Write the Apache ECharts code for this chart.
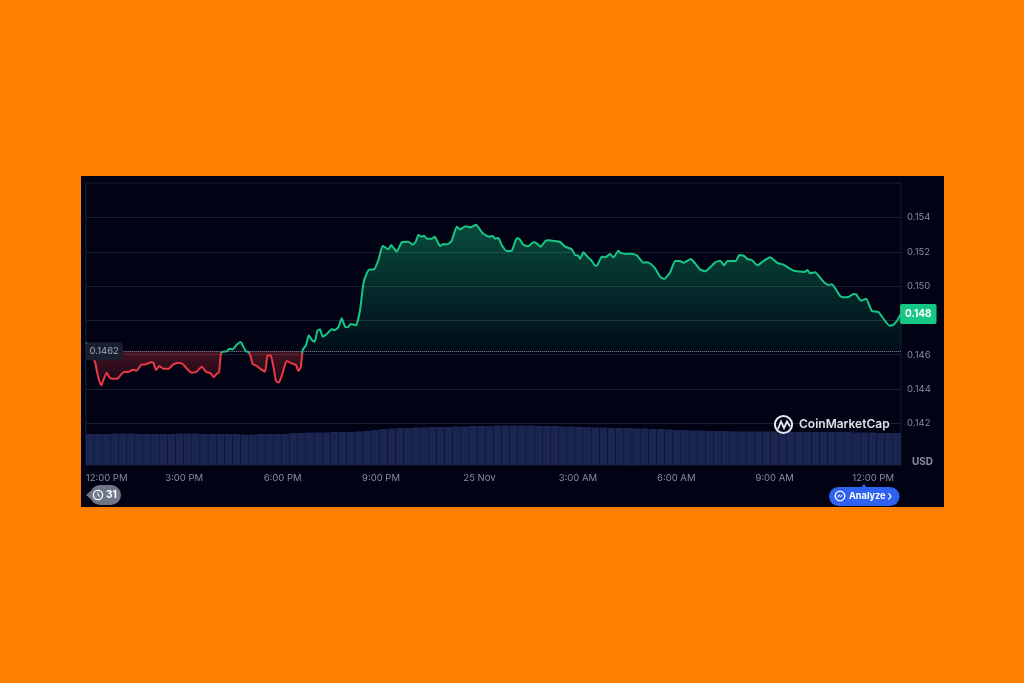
<!DOCTYPE html>
<html>
<head>
<meta charset="utf-8">
<style>
html,body{margin:0;padding:0;width:1024px;height:683px;background:#ff8000;overflow:hidden}
#panel{position:absolute;left:81px;top:176px;width:863px;height:331px;background:#010314}
#c{position:absolute;left:0;top:0;width:1024px;height:683px}
</style>
<script src="https://cdn.jsdelivr.net/npm/echarts@6/dist/echarts.min.js"></script>
</head>
<body>
<div id="panel"></div>
<div id="c"></div>
<script>
// hours since 12:00 PM on 24 Nov
const priceHours = [0,.067,.108,.189,.28,.331,.403,.474,.555,.636,.718,.819,.961,1.063,1.165,1.297,1.429,1.551,1.693,1.835,1.978,2.059,2.14,2.242,2.364,2.526,2.669,2.821,2.953,3.075,3.218,3.38,3.533,3.665,3.807,3.888,4.01,4.061,4.122,4.193,4.295,4.376,4.478,4.6,4.722,4.803,4.884,4.966,5.027,5.088,5.21,5.311,5.464,5.535,5.636,5.718,5.799,5.88,5.982,6.124,6.277,6.409,6.48,6.551,
6.612,6.713,6.795,6.896,6.978,7.059,7.14,7.222,7.344,7.496,7.587,7.699,7.801,7.903,7.984,8.075,8.238,8.36,8.462,8.563,8.644,8.787,8.919,9.051,9.224,9.305,9.478,9.64,9.833,9.966,10.057,10.138,10.24,10.311,10.392,10.545,10.636,10.799,10.901,11.022,11.155,11.307,11.409,11.582,11.734,11.897,12.1,12.303,12.405,12.476,12.578,12.679,12.832,12.984,13.137,13.218,13.34,13.492,13.645,13.746,13.868,14.01,14.102,14.458,14.61,14.813,14.915,15.017,15.067,15.169,15.291,15.403,15.515,15.576,15.728,15.83,15.982,16.084,16.236,
16.287,16.49,16.643,16.795,16.998,17.1,17.222,17.354,17.507,17.629,17.811,17.964,18.116,18.218,18.442,18.574,18.726,18.879,19.031,19.183,19.336,19.458,19.559,19.814,19.925,20.068,20.169,20.301,20.474,20.657,20.86,21.084,21.267,21.572,21.907,21.999,22.08,22.232,22.385,22.507,22.639,22.741,22.995,23.096,23.249,23.401,23.482,23.625,23.787,23.96,24.163,24.499,24.621,24.743,24.844];
const prices = [.146662,.146624,.146235,.14588,.145593,.145107,.144524,.144213,.144621,.144952,.14468,.144602,.144602,.144816,.144991,.144991,.145127,.145069,.145418,.145438,.145555,.145535,.145107,.145341,.145185,.145185,.145438,.145535,.145457,.145205,.144952,.14501,.145302,.14501,.144913,.144699,.144913,.144971,.146079,.146177,.146196,.146351,.146312,.146585,.14674,.146468,.146196,.146157,.145885,.145457,.145341,.145185,.14501,.145924,.145963,.145302,.144466,.144369,.144816,.145632,.145496,.145399,.145049,.145263,
.146273,.146565,.147129,.146857,.146759,.147401,.147479,.147051,.147206,.147479,.14744,.147595,.14812,.147634,.147595,.14779,.147712,.148606,.150161,.150744,.150958,.150977,.151521,.152357,.152143,.152396,.152007,.152571,.15259,.152416,.15259,.152979,.152882,.15294,.152765,.152765,.152882,.152338,.152454,.152435,.152649,.153465,.15331,.153485,.153426,.153582,.153076,.152882,.152921,.152765,.152804,.152396,.152046,.152066,.152785,.152746,.152416,.152318,.152552,.152493,.152299,.152629,.152668,.152571,.152299,.152143,.151813,.151774,.15158,.151969,.151716,.151521,.15121,.151191,.151716,.151677,.151871,.151677,.152066,
.151949,.151872,.151891,.151794,.151366,.151386,.151288,.151036,.15055,.150414,.150803,.151464,.151464,.151366,.15158,.151327,.150977,.150861,.151094,.151386,.151483,.151211,.151464,.151464,.151813,.151755,.15158,.151522,.151211,.151464,.151677,.151347,.15125,.1509,.150822,.150939,.150744,.150803,.150492,.150219,.150064,.150103,.149423,.149345,.149364,.149539,.14952,.14915,.149267,.148548,.14849,.147693,.147751,.148023,.148373];
const volumes = [31,31,31,31.5,31.5,31.5,31,31,31,31,31,31.5,31.5,31.5,31,31,31,31,31,30.5,30.5,31,31,31,31,
32,32,32.5,32.5,32.5,33,33,33,33.5,34,
35,36,36.5,37,37,37.5,37.5,38,38,38,38.5,38.5,39,39,
39,39.5,39.5,39.5,39.5,39.5,39,39,39,38.5,38.5,38,
38,37.5,37.5,37,37,37,36.5,36.5,36,36,35.5,35,
35,34.5,34.5,34,34,34,33.5,33.5,33.5,33.5,33.5,33.5,33.5,33,33,33,33,33,
33,33,33,32.5,32.5,32.5,32,32,32];
const xTickLabels = ['12:00 PM','3:00 PM','6:00 PM','9:00 PM','25 Nov','3:00 AM','6:00 AM','9:00 AM','12:00 PM'];
const basePrice = 0.1462;

const FONT = 'Inter, "Open Sans", sans-serif';
const TXT = '#868ea3';
const hi = Math.max(...prices), lo = Math.min(...prices);
const r = (hi - basePrice) / (hi - lo);
const lineColor = {type:'linear',x:0,y:0,x2:0,y2:1,colorStops:[
  {offset:0,color:'#16c784'},{offset:r,color:'#16c784'},{offset:r,color:'#ea3943'},{offset:1,color:'#ea3943'}]};
const areaColor = {type:'linear',x:0,y:0,x2:0,y2:1,colorStops:[
  {offset:0,color:'rgba(22,199,132,0.36)'},{offset:r,color:'rgba(22,199,132,0.05)'},
  {offset:r,color:'rgba(234,57,67,0.30)'},{offset:1,color:'rgba(234,57,67,0.08)'}]};
const linePts = priceHours.map((h,i)=>[h,prices[i]]);
const volPts = volumes.map((v,i)=>[i*0.2485+0.124,v]);
const last = linePts[linePts.length-1];

const chart = echarts.init(document.getElementById('c'),null,{renderer:'canvas'});
chart.setOption({
  animation:false,
  backgroundColor:'transparent',
  textStyle:{fontFamily:FONT},
  grid:[
    {left:85.8,right:123,top:183.2,height:274.4},
    {left:85.8,right:123,top:183,bottom:218,show:true,borderColor:'#191f2f',borderWidth:1,backgroundColor:'transparent'}
  ],
  xAxis:[
    {type:'value',gridIndex:0,min:0,max:24.85,interval:3,show:false},
    {type:'value',gridIndex:1,min:0,max:24.85,interval:3,
      axisLine:{show:false},axisTick:{show:false},splitLine:{show:false},
      axisLabel:{show:true,color:TXT,fontSize:9.5,fontFamily:FONT,margin:8,alignMinLabel:'left',
        showMinLabel:true,hideOverlap:false,
        formatter:v=>{const k=Math.round(v/3);return Math.abs(v-k*3)<1e-6?(xTickLabels[k]||''):''}}}
  ],
  yAxis:[
    {type:'value',gridIndex:0,position:'right',min:0.14,max:0.156,interval:0.002,
      axisLine:{show:false},axisTick:{show:false},
      splitLine:{show:true,showMinLine:false,showMaxLine:false,lineStyle:{color:'#1b2132',width:1}},
      axisLabel:{color:TXT,fontSize:9.5,fontFamily:FONT,margin:6,padding:[2,0,0,0],
        formatter:v=>(v<0.141||v>0.155)?'':v.toFixed(3)}},
    {type:'value',gridIndex:1,min:0,max:282,show:false}
  ],
  series:[
    {type:'bar',name:'Volume',xAxisIndex:1,yAxisIndex:1,data:volPts,barWidth:7.85,
      itemStyle:{color:'#1a2650'},silent:true,z:1},
    {type:'line',name:'Price',xAxisIndex:0,yAxisIndex:0,data:linePts,showSymbol:false,smooth:0.15,
      lineStyle:{width:2,color:lineColor},
      areaStyle:{origin:basePrice,color:areaColor,opacity:1},z:3,
      markLine:{silent:true,symbol:'none',precision:4,label:{show:false},
        lineStyle:{type:'dotted',color:'#7f8799',width:1},data:[{yAxis:basePrice}]},
      markPoint:{silent:true,symbol:'circle',symbolSize:0,z:10,data:[
        {coord:[0.56,basePrice],label:{show:true,position:'inside',formatter:String(basePrice),
          color:'#a3aaba',fontSize:9.5,fontFamily:FONT,backgroundColor:'#191f2e',borderRadius:4,padding:[4,4]}},
        {coord:last,label:{show:true,position:'inside',offset:[17.5,0],formatter:last[1].toFixed(3),
          color:'#fff',fontWeight:700,fontSize:10,fontFamily:FONT,backgroundColor:'#16c784',borderRadius:2,padding:[5,5]}}
      ]}}
  ],
  graphic:[
    {type:'text',left:912,top:457,style:{text:'USD',fill:TXT,font:'700 10px '+FONT}},
    // CoinMarketCap watermark
    {type:'circle',shape:{cx:783.5,cy:424.5,r:8.6},style:{fill:'none',stroke:'#e8e9ee',lineWidth:2},z:20},
    {type:'polyline',shape:{points:[[778,429],[781,421.5],[784,428],[787,421.5],[790,426.5]]},style:{fill:'none',stroke:'#e8e9ee',lineWidth:1.8},z:20},
    {type:'text',left:799,top:418,z:20,style:{text:'CoinMarketCap',fill:'#dfe1e7',font:'600 12px '+FONT}},
    // history pill
    {type:'polygon',shape:{points:[[86,495],[93,489],[93,501]]},style:{fill:'#6f7688'},z:20},
    {type:'rect',shape:{x:90,y:485,width:31,height:20,r:10},style:{fill:'#6f7688'},z:20},
    {type:'circle',shape:{cx:98,cy:495,r:4.6},style:{fill:'none',stroke:'#fff',lineWidth:1.3},z:21},
    {type:'polyline',shape:{points:[[98,492.5],[98,495.3],[100,496.5]]},style:{fill:'none',stroke:'#fff',lineWidth:1},z:21},
    {type:'text',left:106,top:490,z:21,style:{text:'31',fill:'#fff',font:'700 10px '+FONT}},
    // analyze pill
    {type:'polygon',shape:{points:[[861,487.5],[864,484],[867,487.5]]},style:{fill:'#2f62f0'},z:20},
    {type:'rect',shape:{x:829,y:487,width:70.5,height:19,r:9.5},style:{fill:'#2f62f0'},z:20},
    {type:'circle',shape:{cx:840,cy:496,r:4.8},style:{fill:'none',stroke:'#fff',lineWidth:1.3},z:21},
    {type:'polyline',shape:{points:[[837.8,497.5],[839.2,494.8],[840.6,497],[842.2,494.8]]},style:{fill:'none',stroke:'#fff',lineWidth:1},z:21},
    {type:'text',left:849,top:492,z:21,style:{text:'Analyze',fill:'#fff',font:'700 9.2px '+FONT}},
    {type:'polyline',shape:{points:[[888.5,493],[891,496.3],[888.5,499.6]]},style:{fill:'none',stroke:'#fff',lineWidth:1.2},z:21}
  ]
});
</script>
</body>
</html>
